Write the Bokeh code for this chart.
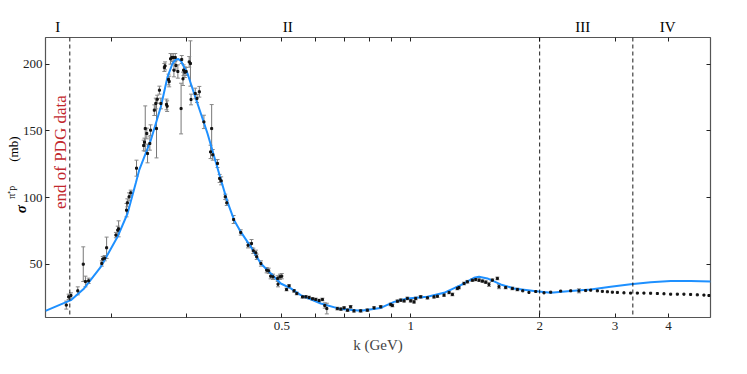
import numpy as np
from bokeh.plotting import figure
from bokeh.models import (ColumnDataSource, Whisker, TeeHead, Span, Label,
                          FixedTicker, LogAxis, LinearAxis)
from bokeh.embed import file_html
from bokeh.resources import INLINE

# ---------------- data ----------------
k_data = [0.157, 0.159, 0.161, 0.167, 0.172, 0.174, 0.177, 0.190, 0.191, 0.193,
          0.195, 0.205, 0.207, 0.208, 0.217, 0.218, 0.220, 0.222, 0.229, 0.238,
          0.239, 0.240, 0.242, 0.243, 0.246, 0.247, 0.252, 0.254, 0.255, 0.256,
          0.259, 0.261, 0.266, 0.267, 0.269, 0.270, 0.272, 0.273, 0.275, 0.277,
          0.279, 0.280, 0.282, 0.283, 0.286, 0.291, 0.292, 0.294, 0.295, 0.297,
          0.299, 0.304, 0.306, 0.307, 0.314, 0.317, 0.321, 0.329, 0.341, 0.343,
          0.345, 0.354, 0.358, 0.361, 0.369, 0.372, 0.386, 0.401, 0.417, 0.425,
          0.429, 0.435, 0.437, 0.447, 0.461, 0.466, 0.471, 0.477, 0.489, 0.490,
          0.495, 0.500, 0.513, 0.520, 0.534, 0.542, 0.559, 0.569, 0.579, 0.590,
          0.600, 0.611, 0.622, 0.630, 0.637, 0.674, 0.687, 0.699, 0.712, 0.724,
          0.737, 0.764, 0.792, 0.821, 0.851, 0.898, 0.906, 0.931, 0.948, 0.965,
          0.982, 1.000, 1.018, 1.027, 1.055, 1.094, 1.133, 1.154, 1.196, 1.229,
          1.251, 1.285, 1.296, 1.332, 1.356, 1.393, 1.418, 1.444, 1.470, 1.497,
          1.523, 1.551, 1.593, 1.607, 1.666, 1.727, 1.774, 1.826, 1.888, 1.958,
          2.047, 2.122, 2.239, 2.363, 2.470, 2.561, 2.631, 2.727, 2.801, 2.878,
          2.956, 3.037, 3.146, 3.261, 3.381, 3.503, 3.631, 3.765, 3.901, 4.044,
          4.192, 4.343, 4.502, 4.667, 4.836, 4.968]
sigma_data = [19.3, 25.5, 26.5, 30.0, 50.0, 37.0, 37.5, 50.5, 53.8, 54.5,
              62.3, 71.8, 75.5, 76.5, 90.5, 96.0, 100.5, 103.5, 122.0, 139.0,
              141.5, 151.7, 148.0, 133.0, 140.5, 150.5, 165.5, 170.5, 151.7, 173.7,
              180.5, 170.5, 197.5, 198.7, 169.8, 168.5, 188.5, 187.0, 204.0, 205.0,
              205.0, 195.5, 205.0, 199.0, 194.5, 166.7, 203.5, 189.0, 195.5, 194.0,
              194.5, 201.7, 200.5, 173.5, 178.0, 174.3, 179.3, 156.7, 134.2, 151.7,
              132.0, 125.5, 114.3, 112.5, 100.5, 96.0, 83.5, 73.8, 64.2, 65.5,
              60.0, 58.5, 55.5, 50.5, 45.5, 45.0, 41.0, 40.5, 39.3, 35.0,
              40.5, 41.0, 31.0, 33.7, 30.0, 28.0, 25.5, 25.5, 25.0, 24.0,
              23.5, 22.7, 23.5, 19.0, 16.7, 16.7, 16.3, 17.2, 15.5, 18.0,
              15.0, 15.0, 15.5, 17.2, 18.0, 19.8, 19.0, 22.2, 23.0, 22.5,
              24.3, 22.5, 21.7, 24.3, 25.5, 24.8, 25.5, 26.0, 26.8, 28.8,
              27.3, 31.8, 32.5, 35.5, 36.8, 38.0, 38.5, 38.0, 37.3, 36.5,
              34.8, 38.0, 39.3, 33.1, 32.5, 31.8, 31.0, 30.0, 28.8, 29.5,
              28.5, 29.0, 29.8, 30.0, 30.0, 30.2, 30.5, 30.0, 29.6, 29.3,
              29.0, 28.8, 28.5, 28.3, 28.3, 28.3, 28.2, 28.0, 27.8, 27.5,
              27.5, 27.5, 27.3, 27.0, 26.8, 26.5]
sigma_err = [3, 2, 2, 3, 13, 4, 2, 2, 2, 2,
             8, 2, 3, 6, 5, 3, 3, 2, 6, 4,
             3, 17, 4, 7, 5, 4, 4, 4, 22, 3,
             3, 4, 3, 3, 4, 4, 4, 4, 4, 3,
             3, 5, 3, 4, 5, 19, 3, 5, 4, 4,
             3, 4, 17, 4, 4, 3, 4, 5, 5, 18,
             4, 3, 3, 3, 2, 2, 3, 2, 2, 3,
             2, 2, 2, 2, 2, 2, 2, 2, 2, 2,
             2, 2, 1, 1, 1, 1, 1, 1, 1, 1,
             1, 1, 1, 2, 4, 1, 1, 1, 1, 1,
             1, 1, 1, 1, 1, 1, 1, 1, 1, 1,
             1, 1, 1, 1, 1, 1, 1, 1, 1, 1,
             1, 1, 1, 1, 1, 1, 1, 1, 1, 1,
             1.5, 1, 1, 1.5, 1, 1, 1, 0.5, 0.5, 0.5,
             0.8, 0.5, 0.5, 0.5, 1.5, 0.5, 0.5, 0.3, 0.3, 0.3,
             0.3, 0.3, 0.3, 0.3, 0.3, 0.3, 0.3, 0.3, 0.3, 0.3,
             0.3, 0.3, 0.3, 0.3, 0.3, 0.3]

k_fit = [0.1404, 0.1609, 0.1728, 0.1890, 0.2068, 0.2182, 0.2282, 0.2323, 0.2473,
         0.2610, 0.2706, 0.2779, 0.2829, 0.2868, 0.2906, 0.3012, 0.3121, 0.3236,
         0.3354, 0.3475, 0.3603, 0.3734, 0.3870, 0.4012, 0.4233, 0.4467, 0.4713,
         0.4973, 0.5248, 0.5537, 0.6166, 0.6865, 0.7644, 0.8511, 0.9143, 0.9825,
         1.0939, 1.1960, 1.3083, 1.4052, 1.4435, 1.5101, 1.6220, 1.7422, 1.9398,
         2.1220, 2.3626, 2.6307, 2.9293, 3.2614, 3.6315, 4.0437, 4.5022, 5.0135]
sigma_fit = [15.0, 23.0, 31.8, 48.0, 70.5, 88.0, 111.0, 120.5, 143.0,
             168.0, 190.5, 200.5, 203.5, 203.8, 202.5, 193.0, 178.0, 163.0,
             148.0, 131.0, 113.5, 96.7, 83.0, 74.2, 63.0, 50.5, 43.0,
             35.5, 31.8, 26.8, 20.5, 16.3, 15.0, 17.2, 21.7, 24.3,
             25.5, 28.5, 34.3, 39.8, 40.5, 39.3, 34.8, 31.8, 29.8,
             28.5, 29.8, 31.0, 33.0, 35.0, 36.5, 37.3, 37.3, 37.0]

region_bounds = [0.16, 2.0, 3.3]
region_names = ["I", "II", "III", "IV"]
region_label_k = [0.150, 0.516, 2.52, 3.98]

x_ticks = [0.2, 0.3, 0.4, 0.5, 0.6, 0.7, 0.8, 0.9, 1, 2, 3, 4]
x_tick_labels = {0.5: "0.5", 1: "1", 2: "2", 3: "3", 4: "4"}
y_ticks = [50, 100, 150, 200]

# y-axis title pieces: sigma ^{pi+ p} (mb), centred at these sigma values
ytitle_parts = ["σ", "π⁺p", "(mb)"]
ytitle_at = [91.25, 104.0, 136.25]

FONT = "Liberation Serif"
BLUE = "#1E90FF"
RED = "#c1272d"

p = figure(width=745, height=366, x_axis_type="log",
           x_range=(0.1404, 5.01), y_range=(10, 220),
           output_backend="svg", toolbar_location=None,
           min_border_left=45, min_border_right=35,
           min_border_top=37, min_border_bottom=49)
p.xgrid.visible = False
p.ygrid.visible = False
p.outline_line_color = "#555555"
p.outline_line_width = 1.2
p.background_fill_color = "white"
p.border_fill_color = "white"

xt = FixedTicker(ticks=x_ticks, minor_ticks=[])
yt = FixedTicker(ticks=y_ticks, minor_ticks=[])


def style(ax, size="13px", standoff=3):
    ax.axis_line_color = None
    ax.major_tick_in = 4
    ax.major_tick_out = 0
    ax.minor_tick_in = 0
    ax.minor_tick_out = 0
    ax.major_tick_line_color = "#222222"
    ax.major_label_text_font = FONT
    ax.major_label_text_font_size = size
    ax.major_label_text_color = "#222222"
    ax.major_label_standoff = standoff


def text_axis(ax, size, standoff, color="black", style_=None):
    ax.axis_line_color = None
    ax.major_tick_in = 0
    ax.major_tick_out = 0
    ax.minor_tick_in = 0
    ax.minor_tick_out = 0
    ax.major_label_text_font = FONT
    ax.major_label_text_font_size = size
    ax.major_label_text_color = color
    ax.major_label_standoff = standoff
    if style_:
        ax.major_label_text_font_style = style_


xa = p.xaxis[0]
xa.ticker = xt
style(xa, standoff=4)
xa.major_label_overrides = {t: x_tick_labels.get(t, "") for t in x_ticks}
xa.axis_label = "k (GeV)"
xa.axis_label_text_font = FONT
xa.axis_label_text_font_size = "15px"
xa.axis_label_text_font_style = "normal"
xa.axis_label_standoff = 4

ya = p.yaxis[0]
ya.ticker = yt
style(ya)
ya.major_label_overrides = {t: str(t) for t in y_ticks}

# y-axis title built from rotated tick labels of extra left axes
t_sig = LinearAxis(ticker=FixedTicker(ticks=[ytitle_at[0]], minor_ticks=[]))
text_axis(t_sig, "15px", -10, style_="bold italic")
t_sig.major_label_orientation = "parallel"
t_sig.major_label_overrides = {ytitle_at[0]: ytitle_parts[0]}
p.add_layout(t_sig, "left")

t_mb = LinearAxis(ticker=FixedTicker(ticks=[ytitle_at[2]], minor_ticks=[]))
text_axis(t_mb, "13px", -11)
t_mb.major_label_orientation = "parallel"
t_mb.major_label_overrides = {ytitle_at[2]: ytitle_parts[2]}
p.add_layout(t_mb, "left")

t_sup = LinearAxis(ticker=FixedTicker(ticks=[ytitle_at[1]], minor_ticks=[]))
text_axis(t_sup, "10px", -14)
t_sup.major_label_orientation = "parallel"
t_sup.major_label_overrides = {ytitle_at[1]: ytitle_parts[1]}
p.add_layout(t_sup, "left")

# mirrored tick marks on top and right
top = LogAxis(ticker=xt)
style(top, size="1px", standoff=0)
top.major_label_overrides = {t: "" for t in x_ticks}
p.add_layout(top, "above")

# region names I..IV above the frame
names_axis = LogAxis(ticker=FixedTicker(ticks=region_label_k, minor_ticks=[]))
text_axis(names_axis, "15px", 3)
names_axis.major_label_overrides = dict(zip(region_label_k, region_names))
p.add_layout(names_axis, "above")

right = LinearAxis(ticker=yt)
style(right, size="1px", standoff=0)
right.major_label_overrides = {t: "" for t in y_ticks}
p.add_layout(right, "right")

# fit curve
p.line(k_fit, sigma_fit, line_color=BLUE, line_width=2)

# error bars (only where visible)
sel = [i for i, e in enumerate(sigma_err) if e >= 1]
src_err = ColumnDataSource(dict(
    k=[k_data[i] for i in sel],
    up=[sigma_data[i] + sigma_err[i] for i in sel],
    lo=[sigma_data[i] - sigma_err[i] for i in sel]))
wh = Whisker(source=src_err, base="k", upper="up", lower="lo",
             line_color="#777777", line_width=1,
             upper_head=TeeHead(size=4, line_color="#888888", line_width=1),
             lower_head=TeeHead(size=4, line_color="#888888", line_width=1))
p.add_layout(wh)

p.scatter(k_data, sigma_data, marker="square", size=2, color="#111111")

for b in region_bounds:
    p.add_layout(Span(location=b, dimension="height", line_color="black",
                      line_width=0.9, line_dash="4 3"))

p.add_layout(Label(x=0.152, y=134, text="end of PDG data", angle=np.pi / 2,
                   text_font=FONT, text_font_size="17px", text_color=RED,
                   text_align="center", text_baseline="middle"))

open("out.html", "w").write(file_html(p, INLINE))
